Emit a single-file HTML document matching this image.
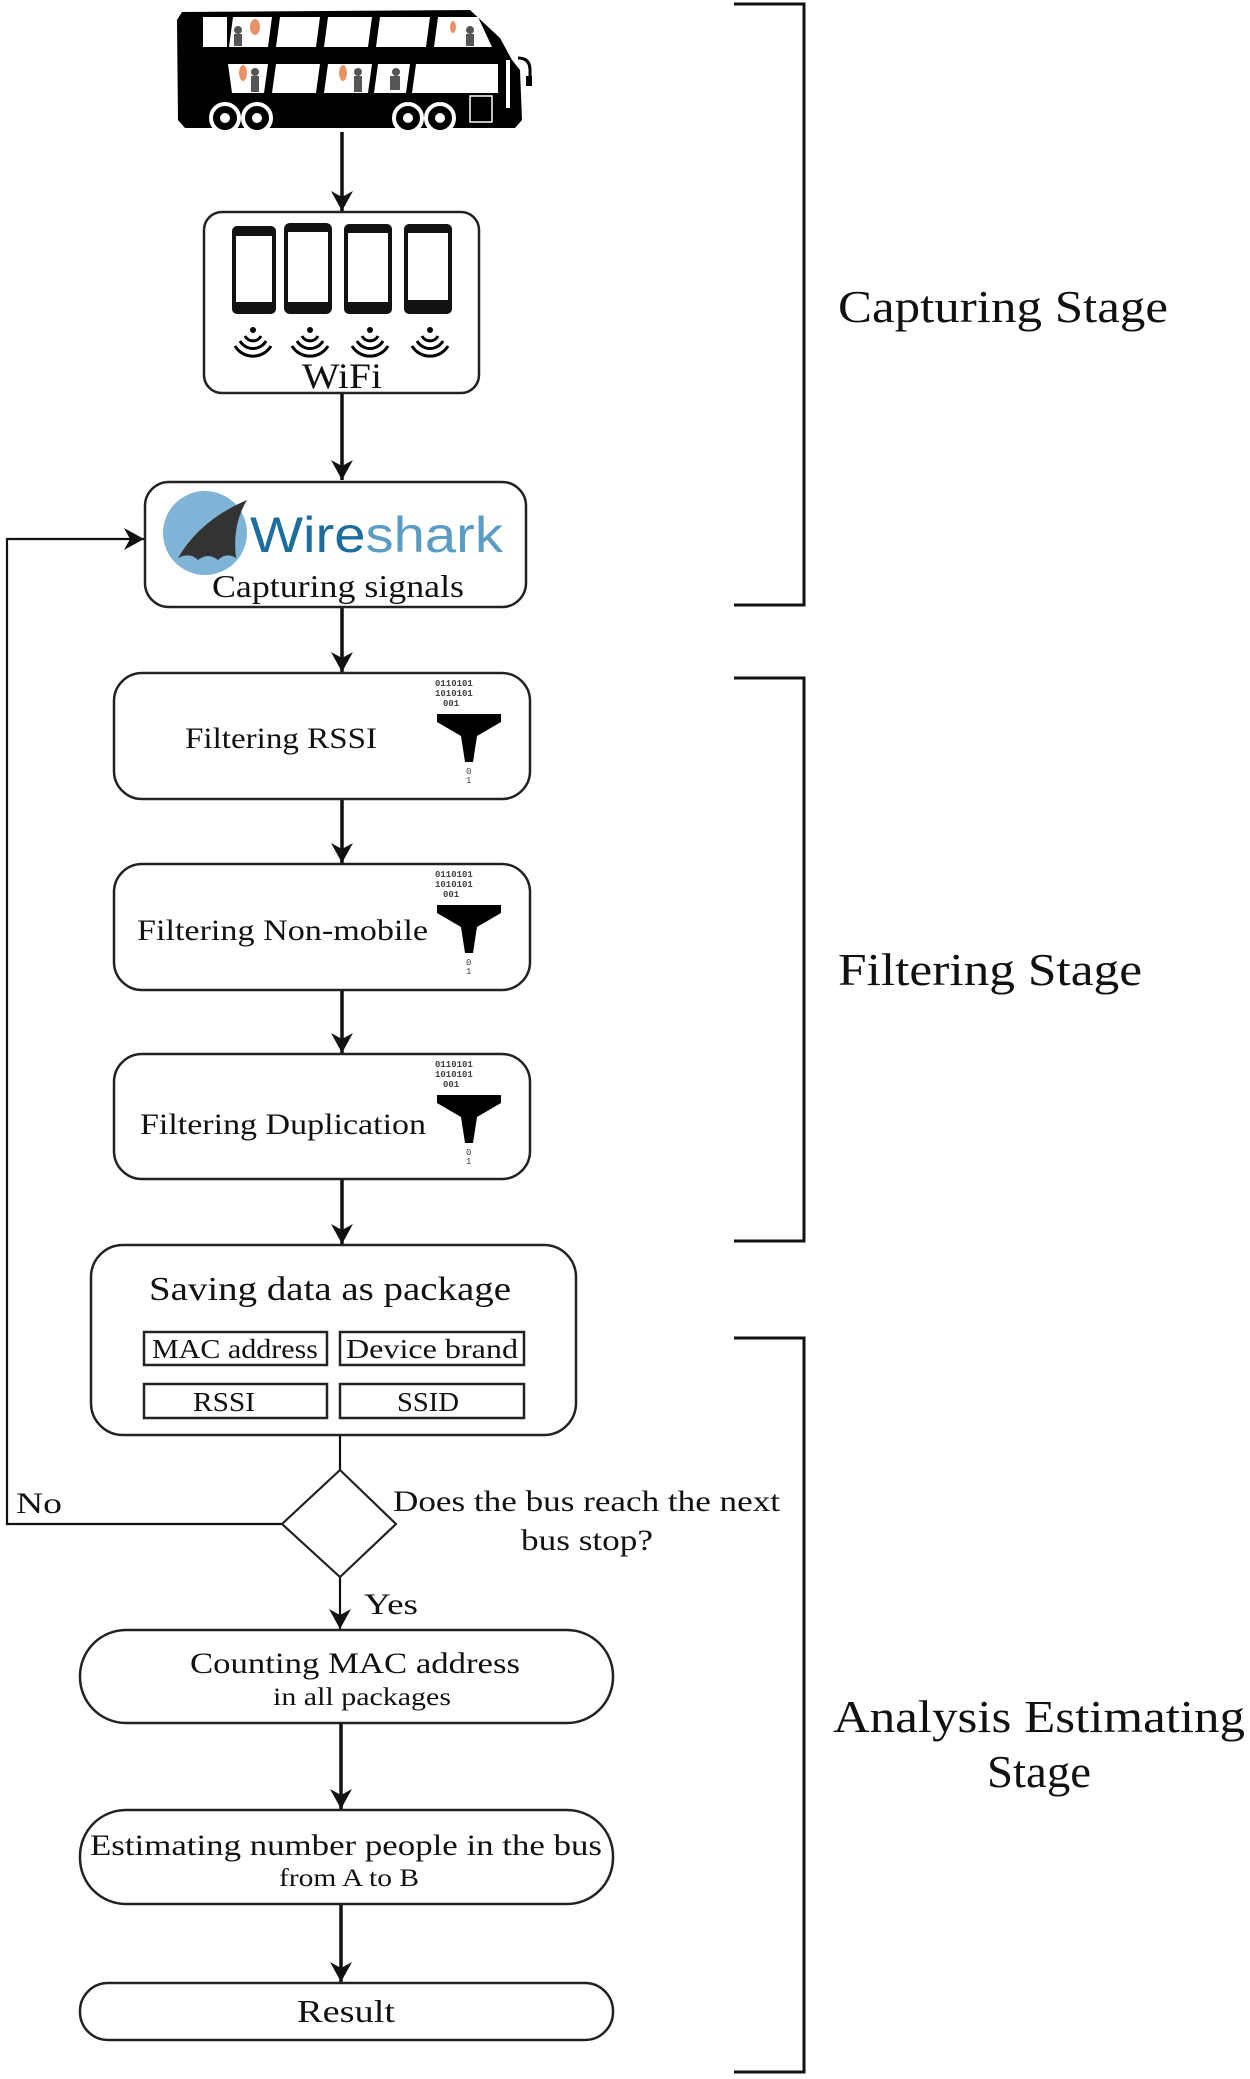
<!DOCTYPE html>
<html><head><meta charset="utf-8"><style>
html,body{margin:0;padding:0;background:#fff;}
svg{display:block;}
</style></head><body>
<svg width="1250" height="2079" viewBox="0 0 1250 2079" xmlns="http://www.w3.org/2000/svg" font-family="Liberation Serif, serif" fill="#111">
<defs>
<marker id="ah" markerWidth="22" markerHeight="26" refX="20" refY="11" orient="auto" markerUnits="userSpaceOnUse" viewBox="0 0 22 22">
<path d="M0,0 L20,11 L0,22 L6,11 Z" fill="#111"/>
</marker>
<g id="funnel">
<text x="0" y="0" font-size="9" font-family="Liberation Mono, monospace" fill="#444" font-weight="bold">0110101</text>
<text x="0" y="10" font-size="9" font-family="Liberation Mono, monospace" fill="#444" font-weight="bold">1010101</text>
<text x="8" y="20" font-size="9" font-family="Liberation Mono, monospace" fill="#444" font-weight="bold">001</text>
<path d="M2,28 L66,28 L66,36 L42,50 L38,76 L30,76 L26,50 L2,36 Z" fill="#000"/>
<text x="31" y="88" font-size="9" font-family="Liberation Mono, monospace" fill="#444">0</text>
<text x="31" y="97" font-size="9" font-family="Liberation Mono, monospace" fill="#444">1</text>
</g>
<g id="wave">
<circle cx="0" cy="0" r="3" fill="#000"/>
<path d="M-8,6 A9,9 0 0 0 8,6" stroke="#000" stroke-width="3" fill="none"/>
<path d="M-13,11 A15,15 0 0 0 13,11" stroke="#000" stroke-width="3" fill="none"/>
<path d="M-18,16 A21,21 0 0 0 18,16" stroke="#000" stroke-width="3" fill="none"/>
</g>
</defs>

<!-- Bus -->
<g>
<path d="M182,12 L470,10 L500,38 L512,60 L520,70 L522,120 L515,128 L185,128 L178,120 L177,20 Z" fill="#000"/>
<g fill="#fff">
<rect x="203" y="17" width="24" height="30"/>
<polygon points="233,17 272,17 268,47 229,47"/>
<polygon points="280,17 320,17 316,47 276,47"/>
<polygon points="328,17 372,17 368,47 324,47"/>
<polygon points="380,17 430,17 426,47 376,47"/>
<polygon points="438,17 478,17 492,47 434,47"/>
<polygon points="228,64 268,64 264,93 232,93"/>
<polygon points="276,64 320,64 316,93 272,93"/>
<polygon points="328,64 372,64 368,93 324,93"/>
<polygon points="378,64 410,64 406,93 374,93"/>
<polygon points="416,64 498,64 498,93 412,93"/>
<rect x="470" y="96" width="22" height="26" fill="none" stroke="#fff" stroke-width="1.5"/>
<rect x="506" y="60" width="4" height="48"/>
</g>
<g fill="#555">
<circle cx="238" cy="30" r="4"/><rect x="234" y="34" width="8" height="12"/>
<circle cx="470" cy="30" r="4"/><rect x="466" y="34" width="8" height="12"/>
<circle cx="255" cy="72" r="4"/><rect x="251" y="76" width="8" height="16"/>
<circle cx="358" cy="72" r="4"/><rect x="354" y="76" width="8" height="16"/>
<circle cx="396" cy="72" r="4"/><rect x="390" y="76" width="10" height="14"/>
</g>
<g fill="#e8926a">
<ellipse cx="255" cy="27" rx="5" ry="8"/><ellipse cx="453" cy="27" rx="3" ry="6"/>
<ellipse cx="243" cy="73" rx="4" ry="8"/><ellipse cx="343" cy="73" rx="4" ry="8"/>
</g>
<path d="M518,58 Q530,58 530,70 L530,80" stroke="#000" stroke-width="3" fill="none"/>
<rect x="526" y="76" width="6" height="10" fill="#000"/>
<rect x="200" y="124" width="300" height="4" fill="#000"/>
<g fill="#000" stroke="#fff" stroke-width="4">
<circle cx="225" cy="118" r="14"/><circle cx="257" cy="118" r="14"/>
<circle cx="408" cy="118" r="14"/><circle cx="440" cy="118" r="14"/>
</g>
<g fill="#fff"><circle cx="225" cy="118" r="5"/><circle cx="257" cy="118" r="5"/><circle cx="408" cy="118" r="5"/><circle cx="440" cy="118" r="5"/></g>
</g>

<!-- connectors -->
<g stroke="#111" stroke-width="3.5" fill="none">
<line x1="342" y1="132" x2="342" y2="211" marker-end="url(#ah)"/>
<line x1="342" y1="393" x2="342" y2="480" marker-end="url(#ah)"/>
<line x1="342" y1="607" x2="342" y2="672" marker-end="url(#ah)"/>
<line x1="342" y1="800" x2="342" y2="863" marker-end="url(#ah)"/>
<line x1="342" y1="990" x2="342" y2="1053" marker-end="url(#ah)"/>
<line x1="342" y1="1179" x2="342" y2="1244" marker-end="url(#ah)"/>
<line x1="341" y1="1723" x2="341" y2="1809" marker-end="url(#ah)"/>
<line x1="341" y1="1904" x2="341" y2="1982" marker-end="url(#ah)"/>
</g>
<g stroke="#111" stroke-width="2.2" fill="none">
<line x1="340" y1="1435" x2="340" y2="1470"/>
<line x1="340" y1="1577" x2="340" y2="1629" marker-end="url(#ah)"/>
<polyline points="282,1524 7,1524 7,539 144,539" marker-end="url(#ah)"/>
</g>

<!-- WiFi box -->
<rect x="204" y="212" width="275" height="181" rx="18" fill="#fff" stroke="#222" stroke-width="2.5"/>
<g>
<rect x="232" y="226" width="44" height="88" rx="5" fill="#111"/><rect x="236" y="236" width="36" height="66" fill="#fff"/>
<rect x="284" y="223" width="48" height="91" rx="6" fill="#111"/><rect x="288" y="232" width="40" height="70" fill="#fff"/>
<rect x="344" y="224" width="48" height="90" rx="5" fill="#111"/><rect x="348" y="233" width="40" height="69" fill="#fff"/>
<rect x="404" y="224" width="48" height="90" rx="5" fill="#111"/><rect x="408" y="233" width="40" height="67" fill="#fff"/>
</g>
<use href="#wave" x="253" y="330"/><use href="#wave" x="310" y="330"/><use href="#wave" x="370" y="330"/><use href="#wave" x="430" y="330"/>
<text x="342" y="388" font-size="36" text-anchor="middle" textLength="80" lengthAdjust="spacingAndGlyphs">WiFi</text>

<!-- Wireshark -->
<rect x="145" y="482" width="381" height="125" rx="24" fill="#fff" stroke="#222" stroke-width="2.5"/>
<circle cx="205" cy="533" r="42" fill="#7fb4d6"/>
<path d="M178,558 Q200,520 247,500 Q232,525 236,558 Q226,552 218,560 Q208,552 198,560 Q190,552 178,558 Z" fill="#333"/>
<text x="250" y="552" font-size="50" font-family="Liberation Sans, sans-serif" fill="#1c6d9e" textLength="253" lengthAdjust="spacingAndGlyphs">Wire<tspan fill="#5a9cc4">shark</tspan></text>
<text x="212" y="597" font-size="32" textLength="252" lengthAdjust="spacingAndGlyphs">Capturing signals</text>

<!-- Filtering boxes -->
<rect x="114" y="673" width="416" height="126" rx="28" fill="#fff" stroke="#222" stroke-width="2.5"/>
<text x="185" y="748" font-size="30" textLength="192" lengthAdjust="spacingAndGlyphs">Filtering RSSI</text>
<use href="#funnel" x="435" y="686"/>

<rect x="114" y="864" width="416" height="126" rx="28" fill="#fff" stroke="#222" stroke-width="2.5"/>
<text x="137" y="940" font-size="30" textLength="291" lengthAdjust="spacingAndGlyphs">Filtering Non-mobile</text>
<use href="#funnel" x="435" y="877"/>

<rect x="114" y="1054" width="416" height="125" rx="28" fill="#fff" stroke="#222" stroke-width="2.5"/>
<text x="140" y="1134" font-size="30" textLength="286" lengthAdjust="spacingAndGlyphs">Filtering Duplication</text>
<use href="#funnel" x="435" y="1067"/>

<!-- Saving -->
<rect x="91" y="1245" width="485" height="190" rx="32" fill="#fff" stroke="#222" stroke-width="2.5"/>
<text x="330" y="1300" font-size="34" text-anchor="middle" textLength="362" lengthAdjust="spacingAndGlyphs">Saving data as package</text>
<g fill="#fff" stroke="#222" stroke-width="2.5">
<rect x="144" y="1332" width="183" height="33"/><rect x="340" y="1332" width="184" height="33"/>
<rect x="144" y="1384" width="183" height="34"/><rect x="340" y="1384" width="184" height="34"/>
</g>
<text x="235" y="1358" font-size="27" text-anchor="middle" textLength="166" lengthAdjust="spacingAndGlyphs">MAC address</text>
<text x="432" y="1358" font-size="27" text-anchor="middle" textLength="172" lengthAdjust="spacingAndGlyphs">Device brand</text>
<text x="224" y="1411" font-size="27" text-anchor="middle" textLength="62" lengthAdjust="spacingAndGlyphs">RSSI</text>
<text x="428" y="1411" font-size="27" text-anchor="middle" textLength="62" lengthAdjust="spacingAndGlyphs">SSID</text>

<!-- Decision -->
<polygon points="340,1470 396,1524 340,1577 282,1524" fill="#fff" stroke="#222" stroke-width="2.2"/>
<text x="16" y="1513" font-size="30" textLength="46" lengthAdjust="spacingAndGlyphs">No</text>
<text x="393" y="1511" font-size="30" textLength="387" lengthAdjust="spacingAndGlyphs">Does the bus reach the next</text>
<text x="587" y="1550" font-size="30" text-anchor="middle" textLength="132" lengthAdjust="spacingAndGlyphs">bus stop?</text>
<text x="364" y="1614" font-size="30" textLength="54" lengthAdjust="spacingAndGlyphs">Yes</text>

<!-- Counting -->
<rect x="80" y="1630" width="533" height="93" rx="46" fill="#fff" stroke="#222" stroke-width="2.5"/>
<text x="355" y="1673" font-size="30" text-anchor="middle" textLength="330" lengthAdjust="spacingAndGlyphs">Counting MAC address</text>
<text x="362" y="1705" font-size="25" text-anchor="middle" textLength="178" lengthAdjust="spacingAndGlyphs">in all packages</text>

<rect x="80" y="1810" width="533" height="94" rx="46" fill="#fff" stroke="#222" stroke-width="2.5"/>
<text x="346" y="1855" font-size="30" text-anchor="middle" textLength="512" lengthAdjust="spacingAndGlyphs">Estimating number people in the bus</text>
<text x="349" y="1886" font-size="25" text-anchor="middle" textLength="140" lengthAdjust="spacingAndGlyphs">from A to B</text>

<rect x="80" y="1983" width="533" height="57" rx="28" fill="#fff" stroke="#222" stroke-width="2.5"/>
<text x="346" y="2022" font-size="32" text-anchor="middle" textLength="98" lengthAdjust="spacingAndGlyphs">Result</text>

<!-- Brackets -->
<g stroke="#111" stroke-width="3" fill="none">
<polyline points="734,4 804,4 804,605 734,605"/>
<polyline points="734,678 804,678 804,1241 734,1241"/>
<polyline points="734,1338 804,1338 804,2072 734,2072"/>
</g>
<text x="838" y="322" font-size="46" textLength="330" lengthAdjust="spacingAndGlyphs">Capturing Stage</text>
<text x="838" y="985" font-size="46" textLength="304" lengthAdjust="spacingAndGlyphs">Filtering Stage</text>
<text x="833" y="1732" font-size="46" textLength="412" lengthAdjust="spacingAndGlyphs">Analysis Estimating</text>
<text x="1039" y="1787" font-size="46" text-anchor="middle" textLength="104" lengthAdjust="spacingAndGlyphs">Stage</text>
</svg>
</body></html>
